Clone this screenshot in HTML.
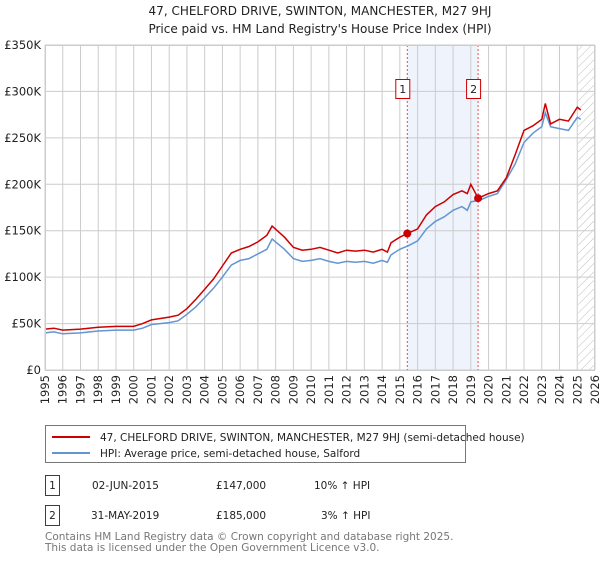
<!DOCTYPE html>
<html><head><meta charset="utf-8"><style>
body{margin:0;background:#fff;font-family:"Liberation Sans","DejaVu Sans",sans-serif;}
svg text{font-family:"DejaVu Sans","Liberation Sans",sans-serif;}
</style></head><body>
<svg id="c" width="600" height="560" xmlns="http://www.w3.org/2000/svg">
<text x="320" y="15" text-anchor="middle" font-size="12" fill="#222">47, CHELFORD DRIVE, SWINTON, MANCHESTER, M27 9HJ</text>
<text x="320" y="33" text-anchor="middle" font-size="12" fill="#222">Price paid vs. HM Land Registry's House Price Index (HPI)</text>
<g id="plot"></g>
<rect x="45.5" y="425.5" width="420" height="37" fill="#fff" stroke="#777"/>
<line x1="52" y1="437" x2="90" y2="437" stroke="#cc0000" stroke-width="2"/>
<text x="100" y="441" font-size="10.5" fill="#222">47, CHELFORD DRIVE, SWINTON, MANCHESTER, M27 9HJ (semi-detached house)</text>
<line x1="52" y1="453" x2="90" y2="453" stroke="#6495d2" stroke-width="2"/>
<text x="100" y="457" font-size="10.5" fill="#222">HPI: Average price, semi-detached house, Salford</text>
<g>
<rect x="45.5" y="475.5" width="14" height="20" fill="#fff" stroke="#cc0000"/>
<text x="52.5" y="489" text-anchor="middle" font-size="10.5" fill="#222">1</text>
<text x="92" y="489" font-size="10.5" fill="#222">02-JUN-2015</text>
<text x="216" y="489" font-size="10.5" fill="#222">£147,000</text>
<text x="314" y="489" font-size="10.5" fill="#222">10% ↑ HPI</text>
</g>
<g>
<rect x="45.5" y="505.5" width="14" height="20" fill="#fff" stroke="#cc0000"/>
<text x="52.5" y="519" text-anchor="middle" font-size="10.5" fill="#222">2</text>
<text x="91" y="519" font-size="10.5" fill="#222">31-MAY-2019</text>
<text x="216" y="519" font-size="10.5" fill="#222">£185,000</text>
<text x="321" y="519" font-size="10.5" fill="#222">3% ↑ HPI</text>
</g>
<text x="45" y="540" font-size="10.5" fill="#777">Contains HM Land Registry data © Crown copyright and database right 2025.</text>
<text x="45" y="551" font-size="10.5" fill="#777">This data is licensed under the Open Government Licence v3.0.</text>
</svg>
<script>
const years=[1995,1996,1997,1998,1999,2000,2001,2002,2003,2004,2005,2006,2007,2008,2009,2010,2011,2012,2013,2014,2015,2016,2017,2018,2019,2020,2021,2022,2023,2024,2025,2026];
const yTicks=[0,50,100,150,200,250,300,350];
const hpiT=[1995,1995.5,1996,1997,1998,1999,2000,2000.5,2001,2002,2002.5,2003,2003.5,2004,2004.5,2005,2005.5,2006,2006.5,2007,2007.5,2007.8,2008.5,2009,2009.5,2010,2010.5,2011,2011.5,2012,2012.5,2013,2013.5,2014,2014.3,2014.5,2015,2015.5,2016,2016.5,2017,2017.5,2018,2018.5,2018.8,2019,2019.5,2020,2020.5,2021,2021.5,2022,2022.5,2023,2023.2,2023.5,2024,2024.5,2025,2025.2];
const hpiV=[40,41,39,40,42,43,43,45,49,51,53,60,68,78,88,100,113,118,120,125,130,141,130,120,117,118,120,117,115,117,116,117,115,118,116,124,130,134,139,152,160,165,172,176,172,181,183,187,190,205,222,245,255,262,277,262,260,258,272,270];
const propT=[1995,1995.5,1996,1997,1998,1999,2000,2000.5,2001,2002,2002.5,2003,2003.5,2004,2004.5,2005,2005.5,2006,2006.5,2007,2007.5,2007.8,2008.5,2009,2009.5,2010,2010.5,2011,2011.5,2012,2012.5,2013,2013.5,2014,2014.3,2014.5,2015,2015.42,2016,2016.5,2017,2017.5,2018,2018.5,2018.8,2019,2019.41,2020,2020.5,2021,2021.5,2022,2022.5,2023,2023.2,2023.5,2024,2024.5,2025,2025.2];
const propV=[44,45,43,44,46,47,47,50,54,57,59,66,76,87,98,112,126,130,133,138,145,155,143,132,129,130,132,129,126,129,128,129,127,130,127,137,143,147,152,167,176,181,189,193,190,200,185,190,193,207,232,258,263,270,287,265,270,268,283,280];
const saleT=[2015.42,2019.41];
const saleV=[147,185];
const X0=45,X1=595,Y0=370,Y1=45;
const xs=t=>X0+(t-1995)*(X1-X0)/31;
const ys=v=>Y0-v*(Y0-Y1)/350;
const NS='http://www.w3.org/2000/svg';
const g=document.getElementById('plot');
function mk(tag,attrs,parent){const e=document.createElementNS(NS,tag);for(const k in attrs)e.setAttribute(k,attrs[k]);(parent||g).appendChild(e);return e;}
let e=mk('rect',{x:xs(saleT[0]),y:Y1,width:xs(saleT[1])-xs(saleT[0]),height:Y0-Y1,fill:'#eef3fc'});


const defs=mk('defs',{});
const pat=mk('pattern',{id:'h',width:6,height:6,patternUnits:'userSpaceOnUse',patternTransform:'rotate(45)'},defs);
mk('line',{x1:0,y1:0,x2:0,y2:6,stroke:'#bbb','stroke-width':1},pat);
e=mk('rect',{x:xs(2025.05),y:Y1,width:X1-xs(2025.05),height:Y0-Y1,fill:'url(#h)'});


years.forEach(y=>{const l=mk('line',{x1:xs(y),x2:xs(y),y1:Y1,y2:Y0,stroke:'#ccc','stroke-width':1});


const tx=xs(y)+4,ty=Y0+5;
const t=mk('text',{x:tx,y:ty,'text-anchor':'end','font-size':11.5,fill:'#222',transform:'rotate(-90 '+tx+' '+ty+')'});t.textContent=y;

});
yTicks.forEach(v=>{const l=mk('line',{x1:X0,x2:X1,y1:ys(v),y2:ys(v),stroke:'#ccc','stroke-width':1});


const t=mk('text',{x:X0-4,y:ys(v)+4,'text-anchor':'end','font-size':11.5,fill:'#222'});t.textContent=v===0?'£0':'£'+v+'K';

});
saleT.forEach((t,i)=>{const l=mk('line',{x1:xs(t),x2:xs(t),y1:Y1,y2:Y0,stroke:'#e05050','stroke-width':1,'stroke-dasharray':'2,2'});


const b=mk('rect',{x:xs(t)-11.5,y:79.5,width:14,height:19,fill:'#fff',stroke:'#cc0000'});


const tx=mk('text',{x:xs(t)-4.5,y:93,'text-anchor':'middle','font-size':11,fill:'#222'});tx.textContent=i+1;

});
const path=(T,V)=>T.map((t,i)=>(i?'L':'M')+xs(t).toFixed(1)+','+ys(V[i]).toFixed(1)).join('');
e=mk('path',{d:path(hpiT,hpiV),fill:'none',stroke:'#6495d2','stroke-width':1.5});


e=mk('path',{d:path(propT,propV),fill:'none',stroke:'#cc0000','stroke-width':1.5});


saleT.forEach((t,i)=>{const c=mk('circle',{cx:xs(t),cy:ys(saleV[i]),r:4,fill:'#cc0000'});

});
e=mk('rect',{x:X0+0.5,y:Y1+0.5,width:X1-X0-1,height:Y0-Y1,fill:'none',stroke:'#ccc'});


</script>
</body></html>
